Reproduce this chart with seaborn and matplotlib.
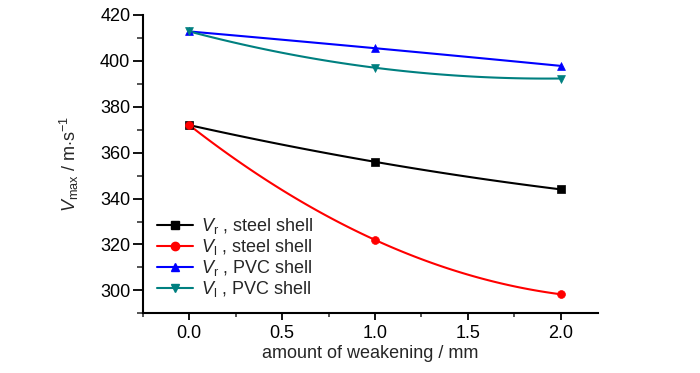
import numpy as np
import pandas as pd
import matplotlib
matplotlib.use("Agg")
import matplotlib.pyplot as plt
from matplotlib.lines import Line2D
from matplotlib.ticker import MultipleLocator
import seaborn as sns

weakening = [0.0, 1.0, 2.0]
vr_steel = [372.0, 356.0, 344.0]
vl_steel = [372.0, 322.0, 298.3]
vr_pvc = [412.8, 405.5, 397.8]
vl_pvc = [412.8, 397.0, 392.3]

labels = [r"$V_{\mathrm{r}}$ , steel shell", r"$V_{\mathrm{l}}$ , steel shell",
          r"$V_{\mathrm{r}}$ , PVC shell", r"$V_{\mathrm{l}}$ , PVC shell"]
colors = ["#000000", "#ff0000", "#0000ff", "#008080"]
markers = ["s", "o", "^", "v"]
series = [vr_steel, vl_steel, vr_pvc, vl_pvc]

sns.set_theme(style="ticks")
fam = ["Liberation Sans Narrow", "Liberation Sans", "DejaVu Sans"]
plt.rcParams["font.family"] = fam
plt.rcParams["mathtext.fontset"] = "custom"
plt.rcParams["mathtext.rm"] = "Liberation Sans"
plt.rcParams["mathtext.it"] = "Liberation Sans:italic"

fig = plt.figure(figsize=(7, 3.73), dpi=100)
ax = fig.add_axes([0.204, 0.16, 0.65, 0.80])

handles = []
for lab, col, mk, ys in zip(labels, colors, markers, series):
    coef = np.polyfit(weakening, ys, 2)
    xs = np.linspace(weakening[0], weakening[-1], 100)
    ax.plot(xs, np.polyval(coef, xs), color=col, lw=1.5, zorder=2)
    df = pd.DataFrame({"x": weakening, "y": ys})
    sns.scatterplot(data=df, x="x", y="y", color=col, marker=mk, s=32,
                    edgecolor=col, linewidth=0.5, ax=ax, zorder=3)
    handles.append(Line2D([], [], color=col, marker=mk, lw=1.5, markersize=6, label=lab))

ax.set_xlim(-0.25, 2.2)
ax.set_ylim(290, 420)
ax.xaxis.set_minor_locator(MultipleLocator(0.25))
ax.yaxis.set_major_locator(MultipleLocator(20))
ax.yaxis.set_minor_locator(MultipleLocator(10))
ax.set_xticks([0.0, 0.5, 1.0, 1.5, 2.0])
ax.set_xticklabels(["0.0", "0.5", "1.0", "1.5", "2.0"])
ax.tick_params(which="major", direction="out", length=5, width=1.3, labelsize=13, colors="black")
ax.tick_params(which="minor", direction="out", length=3, width=1.1)
ax.tick_params(axis="y", which="major", length=7, pad=2)
ax.tick_params(axis="y", which="minor", length=4)
for s in ["top", "right"]:
    ax.spines[s].set_visible(False)
for s in ["left", "bottom"]:
    ax.spines[s].set_linewidth(1.5)
    ax.spines[s].set_color("black")

ax.set_xlabel("amount of weakening / mm", fontsize=13, labelpad=2)
ax.set_ylabel(r"$V_{\mathrm{max}}$ / m$\cdot$s$^{-1}$", fontsize=13, labelpad=14)

ax.legend(handles=handles, loc="lower left", bbox_to_anchor=(0.0, 0.0),
          frameon=False, fontsize=13, handlelength=2.0, handletextpad=0.4,
          labelspacing=0.05, borderaxespad=0.4)

fig.savefig("out.png", dpi=100)
